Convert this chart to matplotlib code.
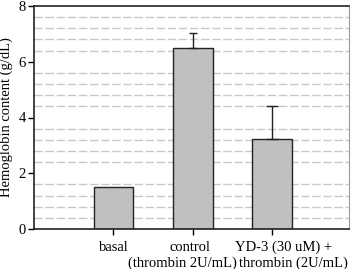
import numpy as np
from matplotlib import pyplot as plt

groups = ["basal", "control\n(thrombin 2U/mL)", "YD-3 (30 uM) +\nthrombin (2U/mL)"]
hemoglobin = [1.52, 6.48, 3.22]
err_up = [0.0, 0.54, 1.2]

plt.rcParams["font.family"] = ["Liberation Serif", "DejaVu Serif"]

fig = plt.figure(figsize=(3.52, 2.69), dpi=100)
ax = fig.add_axes([34 / 352, 40 / 269, 315 / 352, 223 / 269])

x = np.arange(len(groups))

# minor dashed grid every 0.4, skipping the major ticks
for v in np.arange(0.4, 8.0, 0.4):
    if abs(v / 2 - round(v / 2)) > 1e-6:
        ax.axhline(v, color="#c8c8c8", lw=1.0, ls=(0, (6, 2)), zorder=0)

ax.bar(x, hemoglobin, width=0.5, color="#c0c0c0", edgecolor="#222222", lw=1.0, zorder=2)
caps = [3, 3, 4]
for i in range(len(x)):
    if err_up[i] > 0:
        ax.errorbar(x[i], hemoglobin[i], yerr=[[0], [err_up[i]]], fmt="none",
                    ecolor="#222222", elinewidth=1.0, capsize=caps[i],
                    capthick=1.0, zorder=3)

ax.set_xlim(-1, 2.97)
ax.set_ylim(0, 8)
ax.set_yticks([0, 2, 4, 6, 8])
ax.set_xticks(x)
ax.set_xticklabels([])
ax.tick_params(axis="y", labelsize=10.5, length=4, width=1, pad=2)
ax.tick_params(axis="x", length=4, width=1)
ax.set_ylabel("Hemoglobin content (g/dL)", fontsize=10.5, labelpad=4)

# category labels, each line placed as in the original figure
offsets = [[0.01], [-0.03, -0.13], [0.15, 0.27]]
for i, lab in enumerate(groups):
    for j, line in enumerate(lab.split("\n")):
        ax.text(x[i] + offsets[i][j], -0.65 - j * 0.58, line, fontsize=10.5,
                ha="center", va="center", clip_on=False)

for s in ["left", "bottom", "top"]:
    ax.spines[s].set_color("#222222")
    ax.spines[s].set_linewidth(1.2)
ax.spines["right"].set_color("#999999")

fig.savefig("out.png", dpi=100)
plt.close()
